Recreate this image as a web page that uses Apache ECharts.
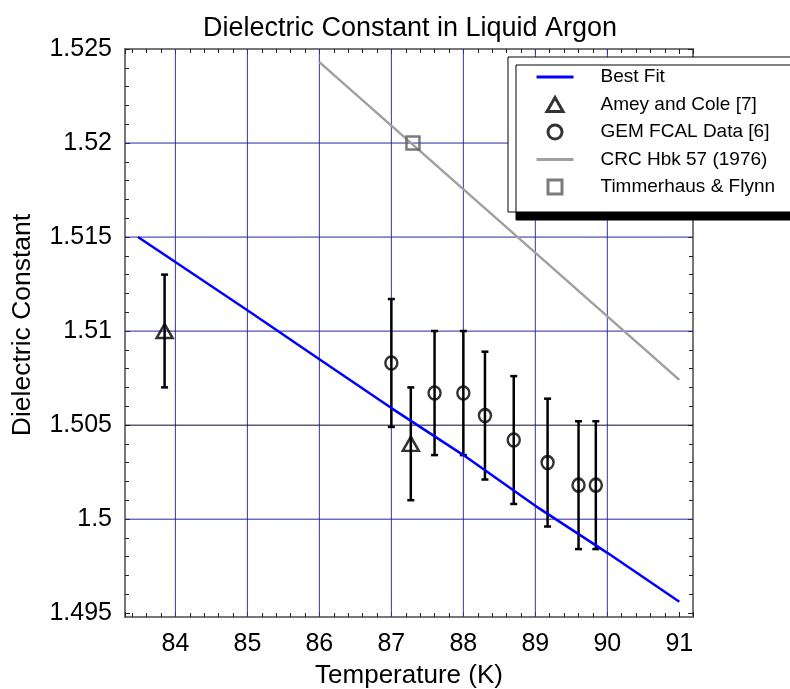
<!DOCTYPE html>
<html><head><meta charset="utf-8">
<script src="https://cdn.jsdelivr.net/npm/echarts@6/dist/echarts.min.js"></script>
<style>html,body{margin:0;padding:0;background:#fff}#c{width:790px;height:689px}</style>
</head><body><div id="c"></div>
<script>
// ---- data ----
const bestFitT = [83.48, 85, 86, 87, 88, 89, 90, 91];
const bestFitK = [1.5150, 1.5111, 1.5085, 1.5059, 1.5034, 1.5007, 1.4982, 1.4956];
const crcT = [86.0, 91.0];
const crcK = [1.5243, 1.5074];
const ameyT = [83.85, 87.27];
const ameyK = [1.5100, 1.5040];
const ameyErr = [0.0030, 0.0030];
const gemT = [87.0, 87.6, 88.0, 88.3, 88.7, 89.17, 89.6, 89.84];
const gemK = [1.5083, 1.5067, 1.5067, 1.5055, 1.5042, 1.5030, 1.5018, 1.5018];
const gemErr = [0.0034, 0.0033, 0.0033, 0.0034, 0.0034, 0.0034, 0.0034, 0.0034];
const timT = [87.3];
const timK = [1.5200];
const xGridVals = [84, 85, 86, 87, 88, 89, 90];
const yGridVals = [1.500, 1.505, 1.510, 1.515, 1.520];
const seriesNames = ['Best Fit', 'Amey and Cole [7]', 'GEM FCAL Data [6]', 'CRC Hbk 57 (1976)', 'Timmerhaus & Flynn'];
const xMin = 83.3, xMax = 91.19;
const yMin = 1.495, yMax = 1.525, yFrameMin = 1.4948;

const FONT = 'Liberation Sans, Arial, sans-serif';
const chart = echarts.init(document.getElementById('c'), null, {renderer: 'canvas'});

function errRender(params, api) {
  const x = api.value(0), lo = api.value(1), hi = api.value(2);
  const p1 = api.coord([x, hi]), p2 = api.coord([x, lo]);
  const hw = 3.5;
  const st = {stroke: '#000', lineWidth: 2.5};
  return {type: 'group', children: [
    {type: 'line', shape: {x1: p1[0], y1: p1[1], x2: p2[0], y2: p2[1]}, style: st},
    {type: 'line', shape: {x1: p1[0] - hw, y1: p1[1], x2: p1[0] + hw, y2: p1[1]}, style: st},
    {type: 'line', shape: {x1: p2[0] - hw, y1: p2[1], x2: p2[0] + hw, y2: p2[1]}, style: st}
  ]};
}
const zip = (a, b) => a.map((v, i) => [v, b[i]]);
const errData = (t, k, e) => t.map((v, i) => [v, k[i] - e[i], k[i] + e[i]]);

const tickStyle = {color: '#222', width: 1};
const xTickAxis = (pos, extra) => Object.assign({
  gridIndex: 1, type: 'value', min: xMin, max: xMax, splitNumber: 8, position: pos,
  axisLine: {show: false},
  axisTick: {show: true, inside: true, length: 5, lineStyle: tickStyle},
  minorTick: {show: true, splitNumber: 5, length: 4, lineStyle: tickStyle},
  splitLine: {show: false}, minorSplitLine: {show: false}
}, extra);
const yTickAxis = (pos, extra) => Object.assign({
  gridIndex: 0, type: 'value', min: yMin, max: yMax, interval: 0.005, position: pos,
  axisLine: {show: false},
  axisTick: {show: true, inside: true, length: 5, lineStyle: tickStyle},
  minorTick: {show: true, splitNumber: 5, length: 4, lineStyle: tickStyle},
  splitLine: {show: false}, minorSplitLine: {show: false}
}, extra);

const gridSeries = [
  ...xGridVals.map(v => ({
    name: '__gx' + v, type: 'line', xAxisIndex: 1, yAxisIndex: 1, z: 1, silent: true,
    data: [[v, yFrameMin], [v, yMax]], symbol: 'none',
    lineStyle: {color: '#3434b0', width: 1}, emphasis: {disabled: true}
  })),
  ...yGridVals.map(v => ({
    name: '__gy' + v, type: 'line', xAxisIndex: 1, yAxisIndex: 1, z: 1, silent: true,
    data: [[xMin, v], [xMax, v]], symbol: 'none',
    lineStyle: {color: Math.abs(v - 1.505) < 1e-9 ? '#0c0c34' : '#2626a0', width: 1}, emphasis: {disabled: true}
  }))
];

const hollowBlack = {color: 'rgba(255,255,255,0)', borderColor: '#000', borderWidth: 2.5};
const option = {
  animation: false,
  backgroundColor: '#fff',
  title: {
    text: 'Dielectric Constant in Liquid Argon',
    left: 410, top: 15, padding: 0, textAlign: 'center',
    textStyle: {fontFamily: FONT, fontSize: 27, fontWeight: 'normal', color: '#000'}
  },
  grid: [
    {left: 125, right: 97, top: 49, bottom: 76, containLabel: false, outerBoundsMode: 'none'},
    {left: 125, right: 97, top: 49, bottom: 72, containLabel: false, outerBoundsMode: 'none', show: true,
     borderColor: '#777', borderWidth: 2, backgroundColor: 'transparent'}
  ],
  xAxis: [
    {gridIndex: 0, type: 'value', min: xMin, max: xMax, show: false, splitLine: {show: false}},
    xTickAxis('bottom', {
      axisLabel: {show: true, margin: 15, fontFamily: FONT, fontSize: 25, color: '#000',
        formatter: v => (Math.abs(v - Math.round(v)) < 1e-6 ? String(Math.round(v)) : '')},
      name: 'Temperature (K)', nameLocation: 'middle', nameGap: 46,
      nameTextStyle: {fontFamily: FONT, fontSize: 26, color: '#000'}
    }),
    xTickAxis('top', {axisLabel: {show: false}})
  ],
  yAxis: [
    yTickAxis('left', {
      axisLabel: {show: true, margin: 13, fontFamily: FONT, fontSize: 25, color: '#000',
        formatter: v => String(+(+v).toFixed(4))},
      name: 'Dielectric Constant', nameLocation: 'middle', nameGap: 89, nameRotate: 90,
      nameTextStyle: {fontFamily: FONT, fontSize: 26.5, color: '#000', padding: [0, 0, 0, 12]}
    }),
    {gridIndex: 1, type: 'value', min: yFrameMin, max: yMax, show: false, splitLine: {show: false}},
    yTickAxis('right', {axisLabel: {show: false}})
  ],
  legend: {
    orient: 'vertical', left: 508, top: 57, z: 20,
    padding: [10, 60, 15, 27],
    itemWidth: 37, itemHeight: 14, itemGap: 7.5,
    symbolKeepAspect: true,
    backgroundColor: '#fff', borderColor: '#000', borderWidth: 1,
    shadowColor: '#000', shadowBlur: 0, shadowOffsetX: 8, shadowOffsetY: 8,
    textStyle: {fontFamily: FONT, fontSize: 19, color: '#000', lineHeight: 20, padding: [0, 0, 0, 22]},
    data: [
      {name: seriesNames[0], itemStyle: {opacity: 0}, lineStyle: {width: 3, color: '#0000ff'}},
      {name: seriesNames[1], icon: 'path://M8,0 L16,14 L0,14 Z', itemStyle: {color: 'rgba(255,255,255,0)', borderColor: '#000', borderWidth: 3}},
      {name: seriesNames[2], itemStyle: {color: 'rgba(255,255,255,0)', borderColor: '#000', borderWidth: 3}},
      {name: seriesNames[3], itemStyle: {opacity: 0}, lineStyle: {width: 3, color: '#a0a0a0'}},
      {name: seriesNames[4], icon: 'path://M0,0 L13,0 L13,13 L0,13 Z',
       itemStyle: {color: 'rgba(255,255,255,0)', borderColor: '#5a5a5a', borderWidth: 3}}
    ],
    selectedMode: false
  },
  series: [
    ...gridSeries,
    {
      name: seriesNames[0], type: 'line', xAxisIndex: 0, yAxisIndex: 0, z: 10,
      data: zip(bestFitT, bestFitK), symbol: 'none', smooth: false,
      lineStyle: {color: '#0000ff', width: 2.5}, itemStyle: {color: '#0000ff'}
    },
    {
      name: seriesNames[3], type: 'line', xAxisIndex: 0, yAxisIndex: 0, z: 10,
      data: zip(crcT, crcK), symbol: 'none',
      lineStyle: {color: '#a0a0a0', width: 2.5}, itemStyle: {color: '#a0a0a0'}
    },
    {
      name: 'amey_err', type: 'custom', xAxisIndex: 0, yAxisIndex: 0, z: 10,
      renderItem: errRender, encode: {x: 0, y: [1, 2]}, data: errData(ameyT, ameyK, ameyErr), silent: true
    },
    {
      name: 'gem_err', type: 'custom', xAxisIndex: 0, yAxisIndex: 0, z: 10,
      renderItem: errRender, encode: {x: 0, y: [1, 2]}, data: errData(gemT, gemK, gemErr), silent: true
    },
    {
      name: seriesNames[1], type: 'scatter', xAxisIndex: 0, yAxisIndex: 0, z: 11,
      data: zip(ameyT, ameyK), symbol: 'triangle', symbolSize: [16, 14],
      itemStyle: hollowBlack
    },
    {
      name: seriesNames[2], type: 'scatter', xAxisIndex: 0, yAxisIndex: 0, z: 11,
      data: zip(gemT, gemK), symbol: 'circle', symbolSize: [12, 13],
      itemStyle: hollowBlack
    },
    {
      name: seriesNames[4], type: 'scatter', xAxisIndex: 0, yAxisIndex: 0, z: 11,
      data: zip(timT, timK), symbol: 'rect', symbolSize: 13,
      itemStyle: {color: 'rgba(255,255,255,0)', borderColor: '#5a5a5a', borderWidth: 2.5}
    }
  ]
};
chart.setOption(option);
</script></body></html>
